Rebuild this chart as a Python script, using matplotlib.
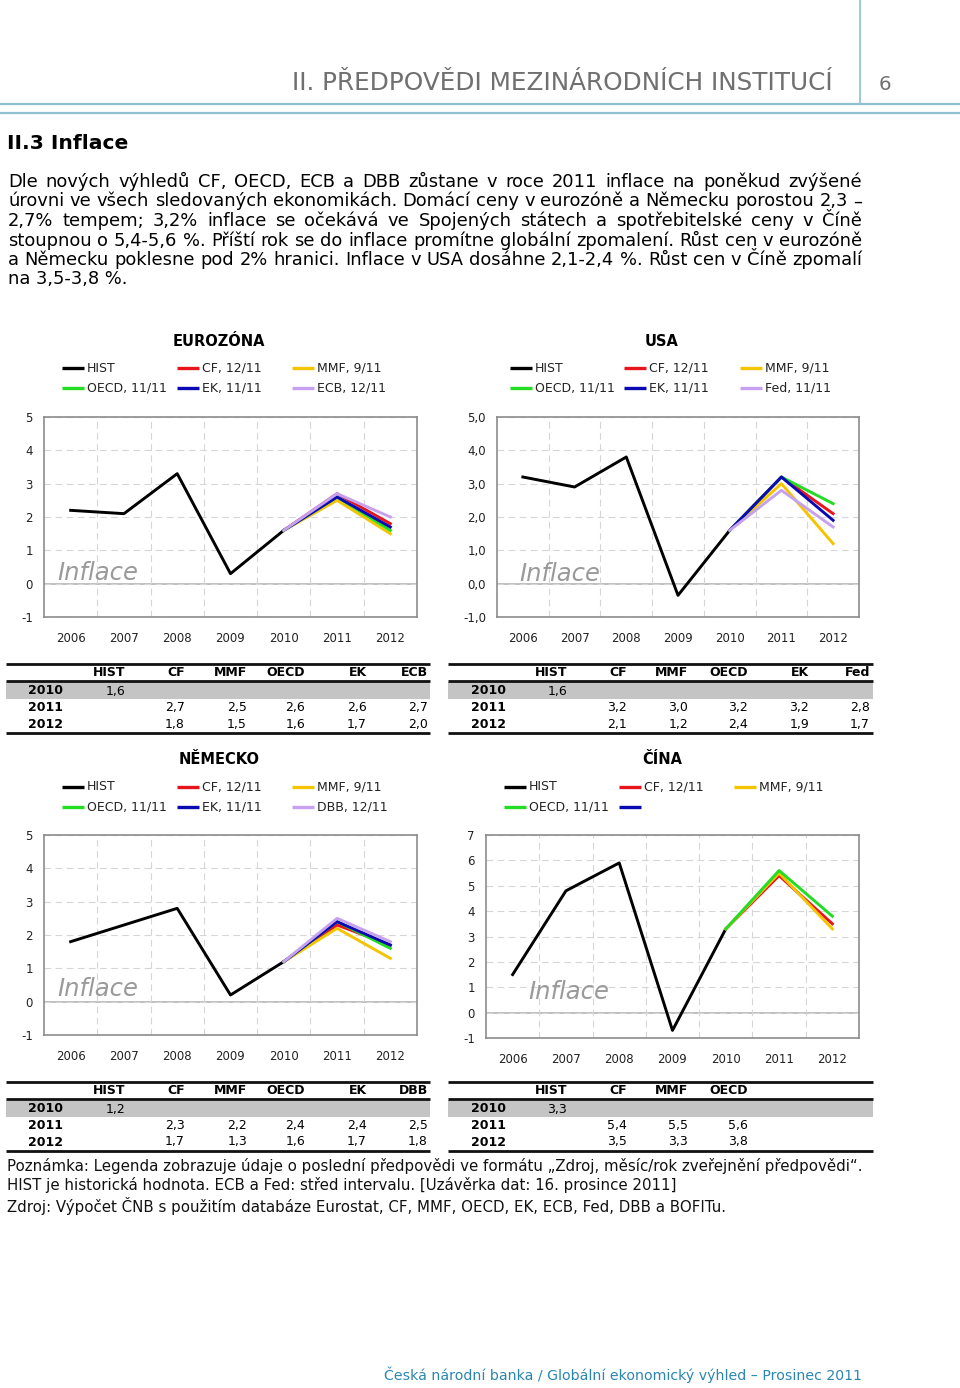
import matplotlib
matplotlib.use("Agg")
import matplotlib.pyplot as plt
from matplotlib.lines import Line2D
from matplotlib.patches import Rectangle
from matplotlib.ticker import FuncFormatter
import numpy as np

# ---- data ----
years = ["2006", "2007", "2008", "2009", "2010", "2011", "2012"]

ez_hist = [2.2, 2.1, 3.3, 0.3, 1.6]
ez_src = ["CF", "MMF", "OECD", "EK", "ECB"]
ez_2011 = [2.7, 2.5, 2.6, 2.6, 2.7]
ez_2012 = [1.8, 1.5, 1.6, 1.7, 2.0]
ez_legend = ["HIST", "CF, 12/11", "MMF, 9/11", "OECD, 11/11", "EK, 11/11", "ECB, 12/11"]

us_hist = [3.2, 2.9, 3.8, -0.35, 1.6]
us_src = ["CF", "MMF", "OECD", "EK", "Fed"]
us_2011 = [3.2, 3.0, 3.2, 3.2, 2.8]
us_2012 = [2.1, 1.2, 2.4, 1.9, 1.7]
us_legend = ["HIST", "CF, 12/11", "MMF, 9/11", "OECD, 11/11", "EK, 11/11", "Fed, 11/11"]

de_hist = [1.8, 2.3, 2.8, 0.2, 1.2]
de_src = ["CF", "MMF", "OECD", "EK", "DBB"]
de_2011 = [2.3, 2.2, 2.4, 2.4, 2.5]
de_2012 = [1.7, 1.3, 1.6, 1.7, 1.8]
de_legend = ["HIST", "CF, 12/11", "MMF, 9/11", "OECD, 11/11", "EK, 11/11", "DBB, 12/11"]

cn_hist = [1.5, 4.8, 5.9, -0.7, 3.3]
cn_src = ["CF", "MMF", "OECD"]
cn_2011 = [5.4, 5.5, 5.6]
cn_2012 = [3.5, 3.3, 3.8]
cn_legend = ["HIST", "CF, 12/11", "MMF, 9/11", "OECD, 11/11", ""]

paragraph = [
    "Dle nových výhledů CF, OECD, ECB a DBB zůstane v roce 2011 inflace na poněkud zvýšené",
    "úrovni ve všech sledovaných ekonomikách. Domácí ceny v eurozóně a Německu porostou 2,3 –",
    "2,7% tempem; 3,2% inflace se očekává ve Spojených státech a spotřebitelské ceny v Číně",
    "stoupnou o 5,4-5,6 %. Příští rok se do inflace promítne globální zpomalení. Růst cen v eurozóně",
    "a Německu poklesne pod 2% hranici. Inflace v USA dosáhne 2,1-2,4 %. Růst cen v Číně zpomalí",
    "na 3,5-3,8 %.",
]
notes = [
    "Poznámka: Legenda zobrazuje údaje o poslední předpovědi ve formátu „Zdroj, měsíc/rok zveřejnění předpovědi“.",
    "HIST je historická hodnota. ECB a Fed: střed intervalu. [Uzávěrka dat: 16. prosince 2011]",
    "Zdroj: Výpočet ČNB s použitím databáze Eurostat, CF, MMF, OECD, EK, ECB, Fed, DBB a BOFITu.",
]

colors = ["black", "#e8141c", "#f5c400", "#22dd22", "#0a0ab4", "#c6a2ee"]
teal = "#8cc0cf"

W, H = 960, 1388
fig = plt.figure(figsize=(9.6, 13.88), dpi=100)
plt.rcParams["font.family"] = ["DejaVu Sans"]
renderer = fig.canvas.get_renderer()


def ptext(x, y, s, **kw):
    return fig.text(x / W, 1 - y / H, s, **kw)


def hline(x0, x1, y, color="black", lw=1.0):
    fig.add_artist(Line2D([x0 / W, x1 / W], [1 - y / H] * 2, transform=fig.transFigure,
                          color=color, lw=lw, solid_capstyle="butt"))


def width_px(s, size, **kw):
    t = fig.text(0, 0, s, fontsize=size, **kw)
    w = t.get_window_extent(renderer=renderer).width
    t.remove()
    return w


def fit_size(s, target, **kw):
    return 10 * target / width_px(s, 10, **kw)


def justify(line, x0, x1, y, size, **kw):
    words = line.split(" ")
    wd = [width_px(w, size, **kw) for w in words]
    gap = (x1 - x0 - sum(wd)) / max(len(words) - 1, 1)
    x = x0
    for w, d in zip(words, wd):
        ptext(x, y, w, fontsize=size, ha="left", va="baseline", **kw)
        x += d + gap


# ---- page header ----
fig.add_artist(Line2D([860 / W] * 2, [1.0, 1 - 104 / H], transform=fig.transFigure, color=teal, lw=1.2))
hline(0, 960, 104, teal, 1.6)
hline(0, 960, 113, teal, 1.6)
hfam = ["Liberation Sans Narrow", "DejaVu Sans"]
head = "II. PŘEDPOVĚDI MEZINÁRODNÍCH INSTITUCÍ"
hs = fit_size(head, 540, family=hfam)
ptext(833, 90, head, fontsize=hs, family=hfam, color="#707070", ha="right", va="baseline")
ptext(879, 90, "6", fontsize=hs * 0.8, family=hfam, color="#707070", ha="left", va="baseline")

ttl = "II.3 Inflace"
ptext(7, 149, ttl, fontsize=fit_size(ttl, 121, fontweight="bold"), fontweight="bold", va="baseline")

ps = fit_size(paragraph[3], 854)
for i, line in enumerate(paragraph):
    yb = 187 + i * 19.5
    if i < len(paragraph) - 1:
        justify(line, 8, 862, yb, ps)
    else:
        ptext(8, yb, line, fontsize=ps, va="baseline")


# ---- charts ----
def draw_chart(box, title, tx, ty, hist, v11, v12, legend, lx, ly, ylim, fmt, infl):
    left, top, right, bottom = box
    ax = fig.add_axes([left / W, 1 - bottom / H, (right - left) / W, (bottom - top) / H])
    x = np.arange(len(years))
    ax.set_xlim(-0.5, 6.5)
    ax.set_ylim(*ylim)
    ax.set_xticks(x)
    ax.set_xticklabels(years)
    ax.set_xticks(np.arange(0.5, 6.0, 1.0), minor=True)
    ax.set_yticks(np.arange(ylim[0], ylim[1] + 1))
    ax.yaxis.set_major_formatter(FuncFormatter(fmt))
    ax.grid(True, which="minor", axis="x", color="#d6d6d6", lw=0.8, ls=(0, (6, 4)))
    ax.grid(True, which="major", axis="y", color="#d6d6d6", lw=0.8, ls=(0, (6, 4)))
    ax.axhline(0, color="#b4b4b4", lw=1.2, zorder=1)
    ax.tick_params(which="both", length=0, labelsize=8.5, labelcolor="#222222")
    ax.tick_params(axis="x", pad=11)
    ax.tick_params(axis="y", pad=8)
    for sp in ax.spines.values():
        sp.set_color("#8c8c8c")
        sp.set_linewidth(1.2)
    ax.plot(x[:5], hist, color=colors[0], lw=2.1, zorder=3)
    for i, (a, b) in enumerate(zip(v11, v12)):
        ax.plot(x[4:], [hist[-1], a, b], color=colors[i + 1], lw=2.1, zorder=3)
    ptext(infl[0], infl[1], "Inflace", fontsize=17.5, style="italic", color="#9a9a9a", va="baseline")
    ptext(tx, ty, title, fontsize=10.5, fontweight="bold", ha="center", va="center")
    for k, lab in enumerate(legend):
        r, c = divmod(k, 3)
        yy = ly[r]
        hline(lx[c], lx[c] + 22, yy, colors[k], 2.4)
        ptext(lx[c] + 25, yy, lab, fontsize=9, ha="left", va="center", color="#222222")


int_fmt = lambda v, p: f"{v:.0f}"
com_fmt = lambda v, p: f"{v:.1f}".replace(".", ",")

draw_chart((44, 417, 417, 617), "EUROZÓNA", 219, 342, ez_hist, ez_2011, ez_2012, ez_legend,
           [62, 177, 292], [368, 388], (-1, 5), int_fmt, (57, 580))
draw_chart((497, 417, 859, 617), "USA", 662, 342, us_hist, us_2011, us_2012, us_legend,
           [510, 624, 740], [368, 388], (-1, 5), com_fmt, (519, 581))
draw_chart((44, 835, 417, 1035), "NĚMECKO", 219, 760, de_hist, de_2011, de_2012, de_legend,
           [62, 177, 292], [787, 807], (-1, 5), int_fmt, (57, 996))
draw_chart((486, 835, 859, 1038), "ČÍNA", 662, 760, cn_hist, cn_2011, cn_2012, cn_legend,
           [504, 619, 734], [787, 807], (-1, 7), int_fmt, (528, 999))


# ---- tables ----
def num(v):
    return f"{v:.1f}".replace(".", ",")


def draw_table(x0, x1, top, yx, cols, hist, src, v11, v12):
    hline(x0, x1, top, "#111111", 2.0)
    hline(x0, x1, top + 17, "#111111", 2.0)
    fig.add_artist(Rectangle((x0 / W, 1 - (top + 35) / H), (x1 - x0) / W, 17 / H,
                             transform=fig.transFigure, facecolor="#c4c4c4", edgecolor="none"))
    hline(x0, x1, top + 69, "#111111", 2.0)
    heads = ["HIST"] + src
    for h, cx in zip(heads, cols):
        ptext(cx, top + 9, h, fontsize=9, fontweight="bold", ha="right", va="center")
    rows = [("2010", top + 27), ("2011", top + 43.5), ("2012", top + 60)]
    for lab, ry in rows:
        ptext(yx, ry, lab, fontsize=9, fontweight="bold", ha="left", va="center")
    ptext(cols[0], rows[0][1], num(hist[-1]), fontsize=9, ha="right", va="center")
    for j in range(len(src)):
        ptext(cols[j + 1], rows[1][1], num(v11[j]), fontsize=9, ha="right", va="center")
        ptext(cols[j + 1], rows[2][1], num(v12[j]), fontsize=9, ha="right", va="center")


left_cols = [125, 185, 247, 305, 367, 428]
right_cols = [567, 627, 688, 748, 809, 870]
draw_table(6, 430, 664, 28, left_cols, ez_hist, ez_src, ez_2011, ez_2012)
draw_table(448, 873, 664, 471, right_cols, us_hist, us_src, us_2011, us_2012)
draw_table(6, 430, 1082, 28, left_cols, de_hist, de_src, de_2011, de_2012)
draw_table(448, 873, 1082, 471, right_cols, cn_hist, cn_src, cn_2011, cn_2012)

# ---- notes and footer ----
ns = fit_size(notes[1], 670)
for line, yb in zip(notes, [1171, 1190, 1212]):
    ptext(7, yb, line, fontsize=ns, va="baseline", color="#111111")

foot = "Česká národní banka / Globální ekonomický výhled – Prosinec 2011"
ptext(862, 1380, foot, fontsize=fit_size(foot, 474), ha="right", va="baseline", color="#2b86b0")

fig.savefig("out.png", dpi=100)
